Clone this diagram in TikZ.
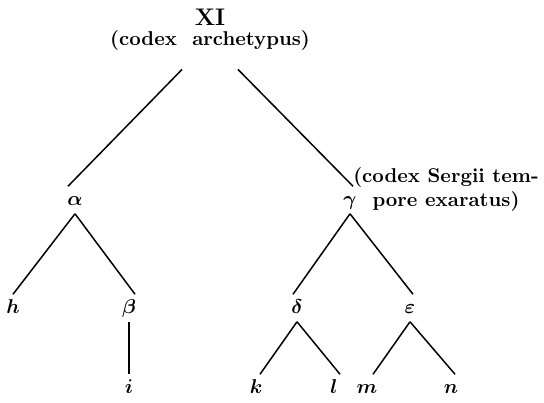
\documentclass[tikz,border=0pt]{standalone}
\usepackage{amsmath}
\usepackage{bm}
\begin{document}
\begin{tikzpicture}[x=0.5pt,y=-0.5pt,font=\bfseries,line width=0.75pt]
	\tikzset{ms/.style={inner sep=2pt,text height=7pt,text depth=2pt}}
	\useasboundingbox (0,0) rectangle (544,402);
	% Archetypus
	\node[align=center,inner sep=0pt] (XI) at (210,30) {{\large XI}\\[-2pt](codex\ \ archetypus)};
	% Erste Reihe
	\node[ms] (alpha) at (75,200) {$\bm{\alpha}$};
	\node[ms] (gamma) at (350,200) {$\bm{\gamma}$};
	\node[align=center,inner sep=0pt] (codexS) at (446,189) {(codex Sergii tem-\\pore exaratus)};
	% Zweite Reihe
	\node[ms] (h) at (13,308) {$\bm{h}$};
	\node[ms] (beta) at (129,308) {$\bm{\beta}$};
	\node[ms] (delta) at (297,308) {$\bm{\delta}$};
	\node[ms] (eps) at (410,308) {$\bm{\varepsilon}$};
	% Dritte Reihe
	\node[ms] (i) at (129,388) {$\bm{i}$};
	\node[ms] (k) at (256,388) {$\bm{k}$};
	\node[ms] (l) at (334,388) {$\bm{l}$};
	\node[ms] (m) at (367,388) {$\bm{m}$};
	\node[ms] (n) at (451,388) {$\bm{n}$};
	% Linien
	\draw ([xshift=-14pt,yshift=-9pt]XI.south) -- ([xshift=-3.5pt]alpha.north);
	\draw ([xshift=14pt,yshift=-9pt]XI.south) -- ([xshift=1.5pt]gamma.north);
	\draw (alpha.south) -- (h.north) (alpha.south) -- ([xshift=3pt]beta.north);
	\draw (beta.south) -- (i.north);
	\draw (gamma.south) -- ([xshift=-2pt]delta.north) (gamma.south) -- ([xshift=1.5pt]eps.north);
	\draw (delta.south) -- ([xshift=2pt]k.north) (delta.south) -- ([xshift=3pt]l.north);
	\draw (eps.south) -- ([xshift=3pt]m.north) (eps.south) -- ([xshift=2pt]n.north);
\end{tikzpicture}
\end{document}
